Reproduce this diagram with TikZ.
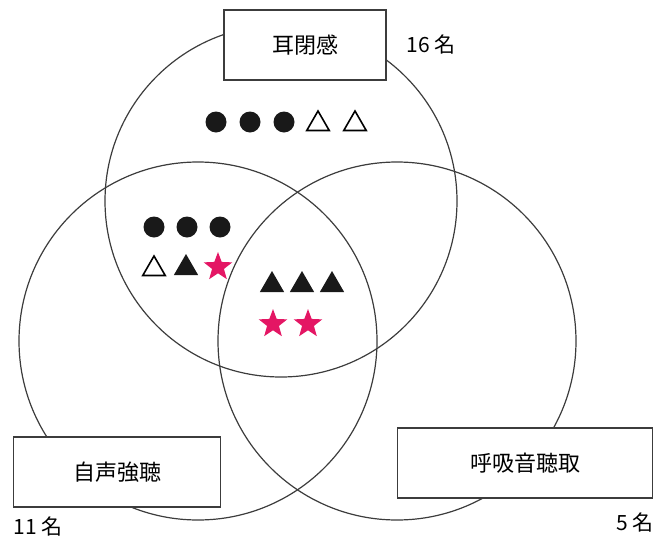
\documentclass[tikz,border=0pt]{standalone}
\usepackage{fontspec}
\setmainfont{Noto Sans CJK JP}
\usetikzlibrary{shapes.geometric}
\definecolor{starpink}{RGB}{228,22,100}
\definecolor{linegray}{RGB}{60,60,60}
\tikzset{
  ring/.style={circle, draw=linegray, line width=1.2pt, minimum size=#1, inner sep=0pt},
  labelbox/.style={draw=linegray, line width=1.1pt, fill=white, inner sep=0pt, font=\fontsize{22}{25}\selectfont},
  count/.style={font=\fontsize{21}{24}\selectfont, inner sep=0pt},
  dot/.style={circle, fill=black!90, minimum size=21pt, inner sep=0pt},
  opentri/.style={regular polygon, regular polygon sides=3, draw=black, line width=1.6pt, fill=white, minimum size=26pt, inner sep=0pt},
  filltri/.style={regular polygon, regular polygon sides=3, fill=black!90, minimum size=28pt, inner sep=0pt},
  pinkstar/.style={star, star points=5, star point ratio=2.4, fill=starpink, minimum size=30pt, inner sep=0pt}
}
\begin{document}
\begin{tikzpicture}[x=1pt,y=-1pt]
\useasboundingbox (0,0) rectangle (664,544);
% circles
\node[ring=352pt] (top) at (281,201) {};
\node[ring=358pt] (left) at (198,341) {};
\node[ring=358pt] (right) at (397,341) {};
% boxes
\node[labelbox, minimum width=162pt, minimum height=70pt] (b1) at (305,45) {耳閉感};
\node[labelbox, minimum width=207pt, minimum height=70pt] (b2) at (117,472) {自声強聴};
\node[labelbox, minimum width=255pt, minimum height=70pt] (b3) at (525,463) {呼吸音聴取};
% counts
\node[count] (c1) at (431,45) {16 名};
\node[count] (c2) at (38,527) {11 名};
\node[count] (c3) at (635,523) {5 名};
% top region
\node[dot] (d1) at (216,122) {};
\node[dot] (d2) at (250,122) {};
\node[dot] (d3) at (284,122) {};
\node[opentri] (t1) at (318,124) {};
\node[opentri] (t2) at (355,124) {};
% top-left intersection
\node[dot] (d4) at (154,227) {};
\node[dot] (d5) at (187,227) {};
\node[dot] (d6) at (220,227) {};
\node[opentri] (t3) at (154,269) {};
\node[filltri] (t4) at (186,268) {};
\node[pinkstar] (s1) at (218,267) {};
% center
\node[filltri] (t5) at (272,285) {};
\node[filltri] (t6) at (302,285) {};
\node[filltri] (t7) at (332,285) {};
\node[pinkstar] (s2) at (273,324) {};
\node[pinkstar] (s3) at (308,324) {};
\end{tikzpicture}
\end{document}
